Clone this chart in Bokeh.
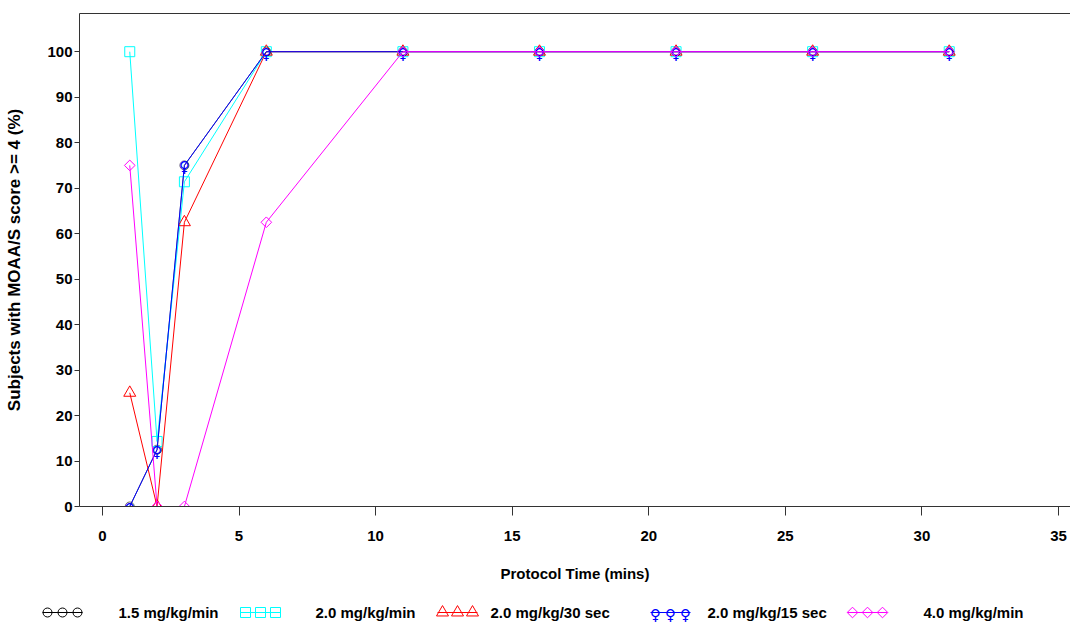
from bokeh.plotting import figure
from bokeh.models import Range1d, LinearAxis, FixedTicker
from bokeh.embed import file_html
from bokeh.resources import INLINE
from bokeh.core.properties import value

# ---------------- data ----------------
times = [1, 2, 3, 6, 11, 16, 21, 26, 31]
dose_15_min = [0, 12.5, 75, 100, 100, 100, 100, 100, 100]
dose_20_min = [100, 14.3, 71.4, 100, 100, 100, 100, 100, 100]
dose_20_30s = [25, 0, 62.5, 100, 100, 100, 100, 100, 100]
dose_20_15s = [0, 12.5, 75, 100, 100, 100, 100, 100, 100]
dose_40_min = [75, 0, 0, 62.5, 100, 100, 100, 100, 100]

series_labels = ["1.5 mg/kg/min", "2.0 mg/kg/min", "2.0 mg/kg/30 sec",
                 "2.0 mg/kg/15 sec", "4.0 mg/kg/min"]
series_values = [dose_15_min, dose_20_min, dose_20_30s, dose_20_15s, dose_40_min]
series_colors = ["black", "#00FFFF", "#FF0000", "#0000FF", "#FF00FF"]
series_markers = ["circle", "square", "triangle", "female", "diamond"]
series_widths = [0.6, 1, 1, 1, 1]

x_ticks = [0, 5, 10, 15, 20, 25, 30, 35]
y_ticks = [0, 10, 20, 30, 40, 50, 60, 70, 80, 90, 100]
x_title = "Protocol Time (mins)"
y_title = "Subjects with MOAA/S score >= 4 (%)"

FONT = "Liberation Sans"
FS = "15px"


def draw_marker(fig, kind, xs, ys, color, lw=1):
    if kind == "circle":
        fig.scatter(xs, ys, marker="circle", size=9, fill_color=None,
                    line_color=color, line_width=lw)
    elif kind == "square":
        fig.scatter(xs, ys, marker="square", size=10, fill_color=None,
                    line_color=color, line_width=lw)
    elif kind == "triangle":
        fig.scatter(xs, ys, marker="triangle", size=12, fill_color=None,
                    line_color=color, line_width=lw)
    elif kind == "diamond":
        fig.scatter(xs, ys, marker="square", size=7.5, angle=0.785398,
                    fill_color=None, line_color=color, line_width=lw)
    elif kind == "female":
        fig.text(xs, ys, text=["\u2640"] * len(xs), text_color=color,
                 text_font=value("DejaVu Sans"), text_font_size="15px",
                 text_align="center", text_baseline="middle", y_offset=2)


# ---------------- main plot ----------------
p = figure(width=1070, height=590,
           x_range=Range1d(-0.84, 35.44), y_range=Range1d(0, 108.4),
           output_backend="svg", toolbar_location=None,
           min_border_left=79, min_border_right=0,
           min_border_top=13, min_border_bottom=84)
p.grid.visible = False
p.outline_line_color = None
p.background_fill_color = "white"
p.border_fill_color = "white"

for vals, col, mk, lw in zip(series_values, series_colors, series_markers,
                             series_widths):
    p.line(times, vals, line_color=col, line_width=lw)
    draw_marker(p, mk, times, vals, col, lw)

xa = p.xaxis[0]
xa.ticker = FixedTicker(ticks=x_ticks)
xa.axis_label = x_title
ya = p.yaxis[0]
ya.ticker = FixedTicker(ticks=y_ticks)
ya.axis_label = y_title
for ax in (xa, ya):
    ax.minor_tick_line_color = None
    ax.major_tick_in = 0
    ax.axis_line_color = "#333333"
    ax.major_tick_line_color = "#333333"
    ax.major_label_text_font = FONT
    ax.major_label_text_font_style = "bold"
    ax.major_label_text_font_size = FS
    ax.major_label_text_color = "black"
    ax.axis_label_text_font = FONT
    ax.axis_label_text_font_style = "bold"
    ax.axis_label_text_font_size = FS
    ax.axis_label_text_color = "black"
ya.axis_label_text_font_size = "17px"
xa.major_tick_out = 9
xa.major_label_standoff = 15
xa.axis_label_standoff = 21
ya.major_tick_out = 5
ya.major_label_standoff = 2
ya.axis_label_standoff = 20

top = LinearAxis(ticker=FixedTicker(ticks=[]), axis_line_color="#333333",
                 major_tick_line_color=None, minor_tick_line_color=None)
p.add_layout(top, "above")

# ---------------- legend strip (separate root, page pixel coords) ----------------
LEG_W, LEG_H = 1070, 35
leg = figure(width=LEG_W, height=LEG_H, x_range=Range1d(0, LEG_W),
             y_range=Range1d(0, LEG_H), output_backend="svg",
             toolbar_location=None, x_axis_type=None, y_axis_type=None,
             min_border=0, min_border_left=0, min_border_right=0,
             min_border_top=0, min_border_bottom=0)
leg.grid.visible = False
leg.outline_line_color = None

sample_x = [42, 240, 437, 650, 847]
label_x = [118, 315, 490, 707, 923]
row_y = 13
for sx, lx, col, mk, lab in zip(sample_x, label_x, series_colors,
                                 series_markers, series_labels):
    leg.line([sx, sx + 40], [row_y, row_y], line_color=col, line_width=1)
    draw_marker(leg, mk, [sx + 5, sx + 20, sx + 35], [row_y] * 3, col)
    leg.text([lx], [row_y], text=[lab], text_font=value(FONT),
             text_font_style="bold", text_font_size=FS, text_color="black",
             text_align="left", text_baseline="middle")

open("out.html", "w").write(file_html([p, leg], INLINE))
